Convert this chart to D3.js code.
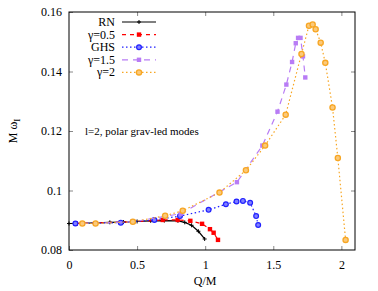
<!DOCTYPE html>
<html>
<head>
<meta charset="utf-8">
<script src="https://cdn.jsdelivr.net/npm/d3@7"></script>
<style>
  body { margin: 0; background: #fff; }
  text { font-family: "Liberation Serif", "DejaVu Serif", serif; }
</style>
</head>
<body>
<svg id="chart" width="378" height="291"></svg>
<script>
// l=2 polar grav-led modes, M*omega_I vs Q/M
var xTicks = [0, 0.5, 1, 1.5, 2];
var yTicks = [0.08, 0.1, 0.12, 0.14, 0.16];

var rnQ = [0, 0.1, 0.2, 0.3, 0.4, 0.5, 0.6, 0.7, 0.8, 0.85, 0.9, 0.95, 0.996];
var rnW = [0.0889, 0.0890, 0.0891, 0.0893, 0.0894, 0.0896, 0.0898, 0.0899, 0.0898, 0.0893, 0.0883, 0.0863, 0.0837];

var g05Q = [0.05, 0.47, 0.688, 0.798, 0.891, 0.977, 1.035, 1.062, 1.094];
var g05W = [0.0889, 0.0895, 0.0901, 0.0901, 0.0898, 0.0888, 0.0870, 0.0858, 0.0834];

var ghsQ = [0.047, 0.38, 0.627, 0.815, 1.025, 1.152, 1.23, 1.277, 1.33, 1.374, 1.389];
var ghsW = [0.0889, 0.0892, 0.0901, 0.0914, 0.0935, 0.0954, 0.0963, 0.0965, 0.0959, 0.0914, 0.0884];

var g15Q = [0.1, 0.47, 0.82, 1.233, 1.42, 1.531, 1.596, 1.638, 1.665, 1.682, 1.70, 1.718, 1.735];
var g15W = [0.0889, 0.0895, 0.0922, 0.1028, 0.1151, 0.1265, 0.1356, 0.1432, 0.1495, 0.1513, 0.1513, 0.1451, 0.1380];

var g2Q = [0.098, 0.195, 0.469, 0.706, 0.835, 1.105, 1.299, 1.44, 1.591, 1.707, 1.762, 1.789, 1.811, 1.848, 1.882, 1.935, 1.974, 2.031];
var g2W = [0.0889, 0.0889, 0.0895, 0.0915, 0.0932, 0.0993, 0.1068, 0.1151, 0.1255, 0.1459, 0.1554, 0.1558, 0.1542, 0.1497, 0.1429, 0.1279, 0.1109, 0.0834];

var series = [
  {name: "RN",    q: rnQ,  w: rnW,  color: "#000000", dash: null,  mark: "plus"},
  {name: "γ=0.5", q: g05Q, w: g05W, color: "#ff0000", dash: "4,4", mark: "square"},
  {name: "GHS",   q: ghsQ, w: ghsW, color: "#2020ff", dash: "1.5,2.5", mark: "circle"},
  {name: "γ=1.5", q: g15Q, w: g15W, color: "#b87cf5", dash: "6,5", mark: "square"},
  {name: "γ=2",   q: g2Q,  w: g2W,  color: "#f7a623", dash: "1.5,2.5", mark: "ocircle"}
];

var svg = d3.select("#chart");
var margin = {top: 12, right: 23, bottom: 41, left: 69},
    width = 378 - margin.left - margin.right,
    height = 291 - margin.top - margin.bottom;

var x = d3.scaleLinear().domain([0, 2.1]).range([0, width]),
    y = d3.scaleLinear().domain([0.08, 0.16]).range([height, 0]);

var g = svg.append("g")
    .attr("transform", "translate(" + margin.left + "," + margin.top + ")");

// axes (gnuplot style: inward ticks, mirrored)
var axisStyle = function(sel) {
  sel.select(".domain").remove();
  sel.selectAll(".tick line").attr("stroke", "#888");
  sel.selectAll(".tick text").attr("font-size", 12).attr("fill", "#000");
};

g.append("g").attr("transform", "translate(0," + height + ")")
  .call(d3.axisBottom(x).tickValues(xTicks).tickFormat(d3.format("")).tickSize(-4).tickPadding(10))
  .call(axisStyle);
g.append("g")
  .call(d3.axisTop(x).tickValues(xTicks.slice(1)).tickSize(-4).tickFormat(""))
  .call(axisStyle);
g.append("g")
  .call(d3.axisLeft(y).tickValues(yTicks).tickFormat(d3.format("")).tickSize(-4).tickPadding(7))
  .call(axisStyle);
g.append("g").attr("transform", "translate(" + width + ",0)")
  .call(d3.axisRight(y).tickValues(yTicks.slice(1, 4)).tickSize(-4).tickFormat(""))
  .call(axisStyle);

g.append("rect")
  .attr("width", width).attr("height", height)
  .attr("fill", "none").attr("stroke", "#000").attr("stroke-width", 1);

// axis titles
g.append("text")
  .attr("x", x(1)).attr("y", height + 35)
  .attr("text-anchor", "middle").attr("font-size", 12)
  .text("Q/M");

var yl = svg.append("text")
  .attr("transform", "translate(17," + (margin.top + y(0.12)) + ") rotate(-90)")
  .attr("text-anchor", "middle").attr("font-size", 12);
yl.append("tspan").text("M ω");
yl.append("tspan").attr("font-size", 9).attr("dy", 3).text("I");

g.append("text")
  .attr("x", 16).attr("y", y(0.1185))
  .attr("font-size", 11)
  .text("l=2, polar grav-led modes");

var line = d3.line()
  .x(function(d) { return x(d[0]); })
  .y(function(d) { return y(d[1]); });

var drawMark = function(sel, s, px, py) {
  if (s.mark === "plus") {
    sel.append("path")
      .attr("d", "M" + (px - 2) + "," + py + "h4M" + px + "," + (py - 2) + "v4")
      .attr("stroke", s.color).attr("stroke-width", 1);
  } else if (s.mark === "square") {
    sel.append("rect")
      .attr("x", px - 2.2).attr("y", py - 2.2).attr("width", 4.4).attr("height", 4.4)
      .attr("fill", s.color);
  } else if (s.mark === "circle") {
    sel.append("circle")
      .attr("cx", px).attr("cy", py).attr("r", 2.4)
      .attr("fill", "#8080ff").attr("stroke", s.color).attr("stroke-width", 1.2);
  } else {
    sel.append("circle")
      .attr("cx", px).attr("cy", py).attr("r", 2.6)
      .attr("fill", "#fbc97a").attr("stroke", s.color).attr("stroke-width", 1.3);
  }
};

series.forEach(function(s) {
  var pts = s.q.map(function(q, i) { return [q, s.w[i]]; });
  g.append("path")
    .datum(pts)
    .attr("d", line)
    .attr("fill", "none")
    .attr("stroke", s.color)
    .attr("stroke-width", 1.2)
    .attr("stroke-dasharray", s.dash);
  var mg = g.append("g");
  pts.forEach(function(p) { drawMark(mg, s, x(p[0]), y(p[1])); });
});

// legend
var legend = svg.append("g");
series.forEach(function(s, i) {
  var ly = 22 + i * 12.6;
  legend.append("text")
    .attr("x", 115).attr("y", ly + 4)
    .attr("text-anchor", "end").attr("font-size", 12)
    .text(s.name);
  legend.append("line")
    .attr("x1", 122).attr("x2", 156).attr("y1", ly).attr("y2", ly)
    .attr("stroke", s.color).attr("stroke-width", 1.2)
    .attr("stroke-dasharray", s.dash);
  drawMark(legend, s, 139, ly);
});
</script>
</body>
</html>
